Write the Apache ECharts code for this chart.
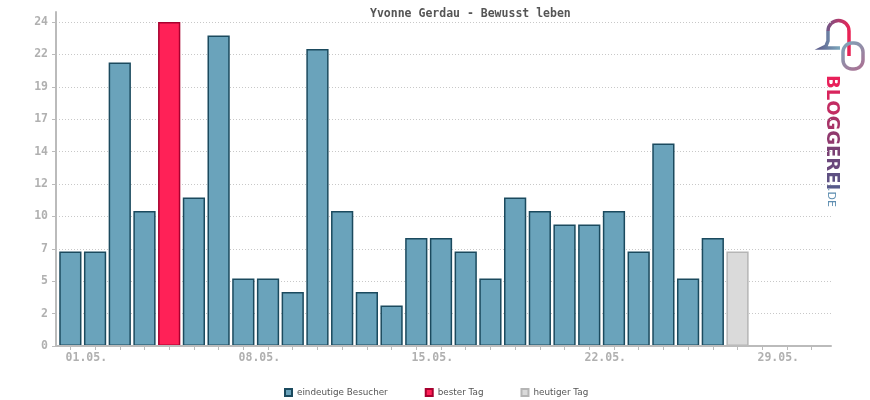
<!DOCTYPE html>
<html>
<head>
<meta charset="utf-8">
<script src="https://cdn.jsdelivr.net/npm/echarts@6/dist/echarts.min.js"></script>
<style>html,body{margin:0;padding:0;background:#fff}#c{width:870px;height:400px}</style>
</head>
<body>
<div id="c"></div>
<script>
const titleText = 'Yvonne Gerdau - Bewusst leben';
const days = ['01.05.','02.05.','03.05.','04.05.','05.05.','06.05.','07.05.','08.05.','09.05.','10.05.',
  '11.05.','12.05.','13.05.','14.05.','15.05.','16.05.','17.05.','18.05.','19.05.','20.05.',
  '21.05.','22.05.','23.05.','24.05.','25.05.','26.05.','27.05.','28.05.','29.05.','30.05.','31.05.'];
const visitors = [7,7,21,10,24,11,23,5,5,4,22,10,4,3,8,8,7,5,11,10,9,9,10,7,15,5,8,7];
const yTickLabels = ['0','2','5','7','10','12','14','17','19','22','24'];
const legendNames = ['eindeutige Besucher','bester Tag','heutiger Tag'];
const logoWord = 'BLOGGEREI';
const logoColors = ['#e8205a','#d8245c','#c22c62','#a83468','#90396e','#7a4074','#6a477b','#5e5082','#575a8a'];

const yMax = 24;
const yStep = yMax / (yTickLabels.length - 1);
const todayIdx = visitors.length - 1;
let bestIdx = 0;
visitors.forEach((v, i) => { if (i !== todayIdx && v > visitors[bestIdx]) bestIdx = i; });

const normal = visitors.map((v, i) => (i === bestIdx || i === todayIdx) ? null : v);
const best = visitors.map((v, i) => i === bestIdx ? v : null);
const today = visitors.map((v, i) => i === todayIdx ? v : null);

const mono = 'DejaVu Sans Mono';
const chart = echarts.init(document.getElementById('c'), null, {renderer: 'canvas'});

function lin(x2, y2, stops) {
  return {type: 'linear', x: 0, y: 0, x2: x2, y2: y2,
    colorStops: stops.map(s => ({offset: s[0], color: s[1]})), global: false};
}
const logoRich = {};
let logoText = '';
logoWord.split('').forEach((ch, i) => {
  logoRich['c' + i] = {fill: logoColors[i], fontFamily: 'DejaVu Sans', fontSize: 18, fontWeight: 'bold'};
  logoText += '{c' + i + '|' + ch + '}';
});

chart.setOption({
  animation: false,
  title: {
    text: titleText, left: 365, top: 3,
    textStyle: {fontFamily: mono, fontSize: 11.5, fontWeight: 'bold', color: '#555'}
  },
  legend: {
    data: legendNames, left: 284, top: 388, padding: 0, itemWidth: 7, itemHeight: 7, itemGap: 37,
    icon: 'rect',
    textStyle: {fontFamily: 'DejaVu Sans', fontSize: 8.8, color: '#555'}
  },
  grid: [
    {left: 58, right: 46, top: 22, bottom: 54},
    {left: 56, right: 39, top: 22, bottom: 54},
    {left: 56, right: 39, top: 12, bottom: 54}
  ],
  xAxis: [
    {
      gridIndex: 0, type: 'category', data: days,
      axisLine: {show: false},
      axisTick: {show: true, alignWithLabel: true, interval: 0, length: 4, lineStyle: {color: '#bbb'}},
      axisLabel: {interval: 6, color: '#b0b0b0', fontFamily: mono, fontSize: 11.5, fontWeight: 'bold',
        margin: 6, padding: [0, 0, 0, 32]}
    },
    {
      gridIndex: 1, type: 'value', min: 0, max: 1, z: 5,
      axisLine: {show: true, lineStyle: {color: '#bbb', width: 2}},
      axisTick: {show: false}, axisLabel: {show: false}, splitLine: {show: false}
    },
    {gridIndex: 2, type: 'value', min: 0, max: 1, show: false}
  ],
  yAxis: [
    {gridIndex: 0, type: 'value', min: 0, max: yMax, show: false},
    {
      gridIndex: 1, type: 'value', min: 0, max: yMax, interval: yStep,
      axisLine: {show: false},
      axisTick: {show: true, length: 4, lineStyle: {color: '#bbb'}},
      axisLabel: {color: '#b0b0b0', fontFamily: mono, fontSize: 11.5, fontWeight: 'bold', margin: 8,
        formatter: v => yTickLabels[Math.round(v / yStep)]},
      splitLine: {show: true, lineStyle: {color: '#c8c8c8', type: [1, 2], width: 1}}
    },
    {
      gridIndex: 2, type: 'value', min: 0, max: 1, z: 5,
      axisLine: {show: true, lineStyle: {color: '#bbb', width: 2}},
      axisTick: {show: false}, axisLabel: {show: false}, splitLine: {show: false}
    }
  ],
  series: [
    {name: legendNames[0], type: 'bar', stack: 'v', data: normal, barWidth: '90%',
      xAxisIndex: 0, yAxisIndex: 0,
      itemStyle: {color: '#6aa3bb', borderColor: '#1b4a5e', borderWidth: 1.5}},
    {name: legendNames[1], type: 'bar', stack: 'v', data: best, barWidth: '90%',
      xAxisIndex: 0, yAxisIndex: 0,
      itemStyle: {color: '#ff2157', borderColor: '#a8002f', borderWidth: 1.5}},
    {name: legendNames[2], type: 'bar', stack: 'v', data: today, barWidth: '90%',
      xAxisIndex: 0, yAxisIndex: 0,
      itemStyle: {color: '#dadada', borderColor: '#b5b5b5', borderWidth: 1.5}}
  ],
  graphic: [
    {type: 'arc', shape: {cx: 838.5, cy: 31, r: 10.5, startAngle: Math.PI, endAngle: 2 * Math.PI, clockwise: true},
      style: {fill: null, lineWidth: 3.5, stroke: lin(1, 0, [[0, '#6a5a8a'], [1, '#f21f52']])}},
    {type: 'polyline', shape: {points: [[828, 31], [828, 41], [826, 46], [822, 48], [840, 48]]},
      style: {fill: null, lineWidth: 3.5, stroke: lin(1, 0, [[0, '#5f6390'], [1, '#7fb0c2']])}},
    {type: 'line', shape: {x1: 849, y1: 31, x2: 849, y2: 56},
      style: {lineWidth: 3.5, stroke: '#e82255'}},
    {type: 'rect', shape: {x: 843, y: 43, width: 20, height: 26, r: 9},
      style: {fill: null, lineWidth: 3.5, stroke: lin(1, 1, [[0, '#79aabd'], [1, '#b06a8e']])}},
    {type: 'text', x: 832, y: 75, rotation: -Math.PI / 2,
      style: {text: logoText, rich: logoRich, fontFamily: 'DejaVu Sans', fontSize: 18, fontWeight: 'bold',
        align: 'left', verticalAlign: 'middle'}},
    {type: 'text', x: 831, y: 188, rotation: -Math.PI / 2,
      style: {text: '.DE', fontFamily: 'DejaVu Sans', fontSize: 11,
        align: 'left', verticalAlign: 'middle', fill: '#5d8db0'}}
  ]
});
</script>
</body>
</html>
